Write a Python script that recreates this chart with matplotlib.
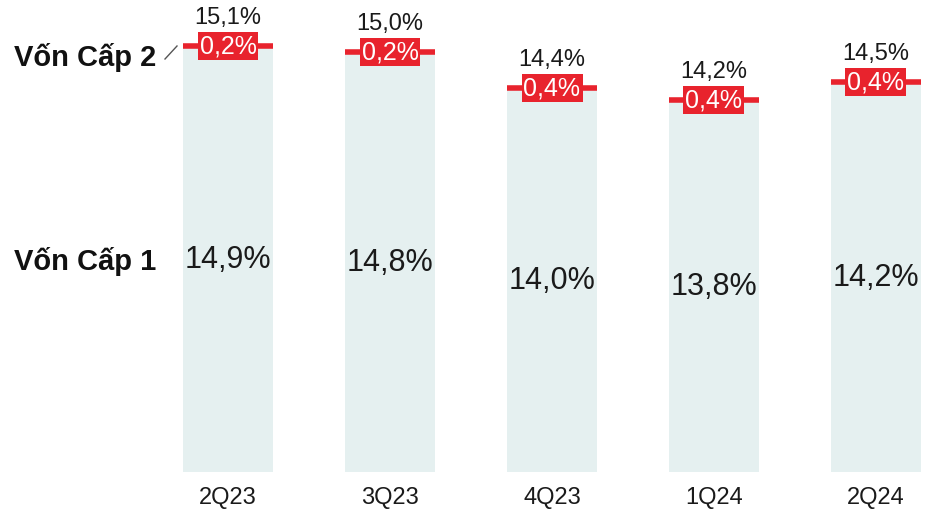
import matplotlib.pyplot as plt
import numpy as np

quarters = ["2Q23", "3Q23", "4Q23", "1Q24", "2Q24"]
tier1 = [14.9, 14.8, 14.0, 13.8, 14.2]
tier2 = [0.2, 0.2, 0.4, 0.4, 0.4]
total = [15.1, 15.0, 14.4, 14.2, 14.5]

def fmt(v):
    return ("%.1f%%" % v).replace(".", ",")

plt.rcParams['font.family'] = ['Liberation Sans', 'DejaVu Sans']

bar_col = "#e5f0f0"
red = "#e8232d"

fig = plt.figure(figsize=(9.31, 5.1), dpi=100)
ax = fig.add_axes([183 / 931, 1 - 473 / 510, 738 / 931, 473 / 510])
base = 8.0
x = np.arange(len(quarters))
w = 0.556

ax.bar(x, np.array(total) - base, bottom=base, width=w, color=bar_col, zorder=1)
ax.hlines(total, x - w / 2, x + w / 2, color=red, linewidth=4, zorder=2)

for i in range(len(x)):
    ax.text(x[i], (base + total[i]) / 2, fmt(tier1[i]), ha="center", va="center",
            fontsize=22, color="#1a1a1a", zorder=3)
    ax.text(x[i], total[i], fmt(tier2[i]), ha="center", va="center", fontsize=18,
            color="white", zorder=3,
            bbox=dict(boxstyle="square,pad=0.08", fc=red, ec="none"))
    ax.text(x[i], total[i] + 29 / 60, fmt(total[i]), ha="center", va="center",
            fontsize=17, color="#1a1a1a", zorder=3)

ax.set_xlim(-w / 2, 4 + w / 2)
ax.set_ylim(base, base + 473 / 60)
ax.set_xticks(x)
ax.set_xticklabels(quarters, fontsize=17, color="#1a1a1a")
ax.tick_params(axis="x", length=0, pad=10)
ax.set_yticks([])
for s in ax.spines.values():
    s.set_visible(False)

fig.text(14 / 931, 1 - 58 / 510, "Vốn Cấp 2", fontsize=21, fontweight="bold",
         ha="left", va="center", color="#111111")
fig.text(14 / 931, 1 - 262 / 510, "Vốn Cấp 1", fontsize=21, fontweight="bold",
         ha="left", va="center", color="#111111")
fig.add_artist(plt.Line2D([165 / 931, 177 / 931], [1 - 60 / 510, 1 - 47 / 510],
                          color="#555555", linewidth=1))

fig.savefig("out.png", dpi=100)
